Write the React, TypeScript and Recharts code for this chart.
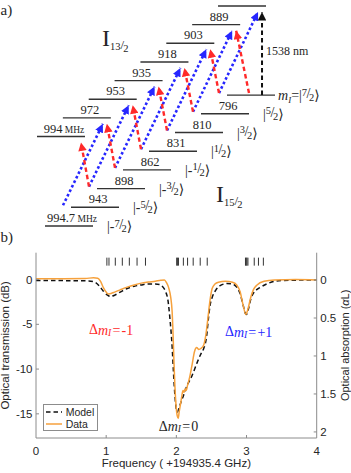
import React from "react";
import {
  ComposedChart,
  Line,
  ReferenceDot,
  Scatter,
  XAxis,
  YAxis,
} from "recharts";

// a) level scheme: hyperfine splittings printed above the levels (MHz)
const upperSplittings = ["994", "972", "953", "935", "918", "903", "889"];
const lowerSplittings = ["994.7", "943", "898", "862", "831", "810", "796"];
// nuclear spin projection of each level, lowest first
const mIValues = ["-7/2", "-5/2", "-3/2", "-1/2", "1/2", "3/2", "5/2", "7/2"];

// b) transmission spectrum (dB) vs frequency offset (GHz)
const modelFreq = [
  0, 0.4, 0.75, 0.84, 0.9, 0.96, 1.02, 1.06, 1.12, 1.2, 1.3, 1.4, 1.5, 1.6,
  1.7, 1.76, 1.81, 1.85, 1.88, 1.91, 1.94, 1.96, 1.98, 2.0, 2.015, 2.04, 2.07,
  2.1, 2.15, 2.22, 2.3, 2.35, 2.39, 2.43, 2.455, 2.48, 2.51, 2.56, 2.63, 2.72,
  2.8, 2.86, 2.91, 2.95, 2.985, 3.0, 3.03, 3.06, 3.1, 3.15, 3.2, 3.3, 3.4, 3.6,
  4.0,
];
const modelDb = [
  -0.1, -0.12, -0.15, -0.3, -0.7, -1.3, -1.75, -1.9, -1.75, -1.4, -1.0, -0.75,
  -0.6, -0.5, -0.5, -0.55, -0.85, -1.4, -2.3, -4.5, -7.5, -10.5, -13.0, -14.5,
  -14.8, -14.3, -13.6, -13.0, -11.9, -10.8, -9.2, -8.3, -7.7, -6.4, -4.5, -2.9,
  -2.0, -1.2, -0.65, -0.45, -0.5, -0.85, -1.6, -2.8, -3.8, -3.9, -3.2, -2.2,
  -1.5, -1.1, -0.85, -0.45, -0.2, -0.08, -0.05,
];
const dataFreq = [
  0, 0.4, 0.7, 0.82, 0.88, 0.92, 0.96, 1.0, 1.03, 1.07, 1.12, 1.2, 1.3, 1.4,
  1.5, 1.6, 1.7, 1.78, 1.83, 1.86, 1.89, 1.92, 1.94, 1.955, 1.965, 1.98, 1.995,
  2.012, 2.027, 2.04, 2.06, 2.08, 2.095, 2.11, 2.125, 2.14, 2.16, 2.19, 2.22,
  2.26, 2.29, 2.32, 2.35, 2.39, 2.42, 2.45, 2.48, 2.51, 2.55, 2.6, 2.7, 2.8,
  2.86, 2.91, 2.95, 2.99, 3.02, 3.06, 3.1, 3.15, 3.25, 3.4, 3.7, 4.0,
];
const dataDb = [
  0.1, 0.1, 0.12, 0.2, 0.15, -0.2, -0.9, -1.4, -1.6, -1.55, -1.4, -1.15, -0.85,
  -0.6, -0.4, -0.28, -0.18, -0.08, -0.05, -0.35, -0.9, -2.0, -3.6, -6.5, -9.0,
  -12.0, -14.0, -15.2, -15.5, -14.8, -13.9, -12.9, -12.4, -12.6, -12.2, -12.4,
  -11.8, -10.9, -9.7, -8.0, -7.6, -7.8, -7.7, -7.3, -6.2, -4.3, -2.3, -1.0,
  -0.5, -0.3, -0.2, -0.3, -0.6, -1.4, -2.8, -3.9, -3.3, -2.0, -1.1, -0.6, -0.2,
  -0.05, 0, -0.05,
];
// hyperfine line positions marked along the top of the plot
const linesMinus = [1.01, 1.04, 1.13, 1.23, 1.33, 1.44, 1.56];
const linesZero = [2.005, 2.015, 2.03, 2.1, 2.16, 2.24, 2.34, 2.44];
const linesPlus = [2.985, 2.995, 3.005, 3.02, 3.11, 3.17, 3.24];

const freqTicks = [0, 1, 2, 3, 4];
const dbTicks = [-15, -10, -5, 0];
const alphaTicks = [0, 0.5, 1, 1.5, 2];
const seriesNames = ["Model", "Data"];

const SERIF = '"Liberation Serif", "DejaVu Serif", serif';
const SANS = '"Liberation Sans", Arial, sans-serif';
const INK = "#262626";
const AXIS = "#8c8c8c";
const RED = "#ff2a2a";
const BLUE = "#2626ff";
const ORANGE = "#f6a13c";
const TICK = 3;

// ---------- level-scheme layout (diagram units = pixels of the scheme) ----------
const W = 351;
const DIAG_H = 240;
const LEVEL_W = 48;
const upX1 = (k: number) => 37 + 25.86 * k;
const upY = (k: number) => 136.5 - 18.64 * k;
const loX1 = (k: number) => 45 + 26 * k;
const loY = (k: number) => 226 - 18.7 * k;

const levelSegments = [
  ...mIValues.map((_, k) => [
    { x: upX1(k), y: upY(k) },
    { x: upX1(k) + LEVEL_W, y: upY(k) },
  ]),
  ...mIValues.map((_, k) => [
    { x: loX1(k), y: loY(k) },
    { x: loX1(k) + LEVEL_W, y: loY(k) },
  ]),
];

// arrows leave level k from just left of level k+1, as drawn in the figure
const arrowStart = (k: number) =>
  k < 7
    ? { x: loX1(k + 1) - 8, y: loY(k + 1) - 2 }
    : { x: loX1(7) + 22, y: loY(7) - 2 };

type Arrow = { color: string; head: string; dash: string; width: number; pts: { x: number; y: number }[] };
const arrows: Arrow[] = [];
mIValues.forEach((_, k) => {
  const s = arrowStart(k);
  if (k + 1 <= 7)
    arrows.push({
      color: BLUE, head: "head-blue", dash: "2.6 2.4", width: 2.6,
      pts: [s, { x: upX1(k + 1) + LEVEL_W - 8, y: upY(k + 1) + 6 }],
    });
  if (k - 1 >= 0)
    arrows.push({
      color: RED, head: "head-red", dash: "4.5 3", width: 2.4,
      pts: [s, { x: upX1(k - 1) + LEVEL_W - 4, y: upY(k - 1) + 6 }],
    });
});
const pumpX = upX1(7) + LEVEL_W - 4;
arrows.push({
  color: "#111", head: "head-black", dash: "4.5 3", width: 2,
  pts: [{ x: pumpX, y: loY(7) }, { x: pumpX, y: upY(7) + 6 }],
});

type DText = { x: number; y: number; kind: string; text: string; unit?: boolean };
const diagramTexts: DText[] = [
  ...upperSplittings.map((s, k) => ({
    x: upX1(k) + LEVEL_W / 2 + 3, y: upY(k) - 4, kind: "num", text: s, unit: k === 0,
  })),
  ...lowerSplittings.map((s, k) => ({
    x: loX1(k) + LEVEL_W / 2 + 3, y: loY(k) - 4, kind: "num", text: s, unit: k === 0,
  })),
  ...mIValues.map((m, k) =>
    k < 7
      ? { x: loX1(k) + LEVEL_W + 14, y: loY(k) + 5, kind: "ket", text: m }
      : { x: loX1(k) + LEVEL_W + 3, y: loY(k) + 5, kind: "mket", text: m },
  ),
  { x: 102, y: 46, kind: "manifold", text: "13" },
  { x: 216, y: 202, kind: "manifold", text: "15" },
  { x: pumpX + 4, y: (loY(7) + upY(7) + 6) / 2 + 1.5, kind: "plain", text: "1538 nm" },
];

function ketSpans(m: string) {
  const neg = m.startsWith("-");
  const [num, den] = m.replace("-", "").split("/");
  return (
    <>
      {neg ? "|-" : "|"}
      <tspan fontSize={10.5} dy={-4.5}>{num}</tspan>
      <tspan fontSize={14} dy={2.5} dx={-0.5}>/</tspan>
      <tspan fontSize={10.5} dy={3} dx={-1.5}>{den}</tspan>
      <tspan fontSize={14} dy={-1}>⟩</tspan>
    </>
  );
}

function DiagramText(props: any) {
  const { cx, cy, payload } = props;
  const common = { fontFamily: SERIF, fill: INK };
  switch (payload.kind) {
    case "num":
      return (
        <text x={cx} y={cy} textAnchor="middle" fontSize={12.5} {...common}>
          {payload.text}
          {payload.unit && <tspan fontSize={9.5}> MHz</tspan>}
        </text>
      );
    case "ket":
      return (
        <text x={cx} y={cy} fontSize={14} {...common}>
          {ketSpans(payload.text)}
        </text>
      );
    case "mket":
      return (
        <text x={cx} y={cy} fontSize={14} {...common}>
          <tspan fontStyle="italic">m</tspan>
          <tspan fontStyle="italic" fontSize={9} dy={2.5}>I</tspan>
          <tspan dy={-2.5}>=</tspan>
          {ketSpans(payload.text)}
        </text>
      );
    case "manifold":
      return (
        <text x={cx} y={cy} fontSize={24} {...common}>
          I
          <tspan fontSize={10.5} dy={4}>{payload.text}</tspan>
          <tspan fontSize={13} dy={-1}>/</tspan>
          <tspan fontSize={10.5} dy={3} dx={-1}>2</tspan>
        </text>
      );
    default:
      return (
        <text x={cx} y={cy} fontSize={12} {...common}>
          {payload.text}
        </text>
      );
  }
}

function ArrowHeads() {
  const heads: [string, string][] = [
    ["head-blue", BLUE],
    ["head-red", RED],
    ["head-black", "#111"],
  ];
  return (
    <svg width={0} height={0} style={{ position: "absolute" }}>
      <defs>
        {heads.map(([id, fill]) => (
          <marker
            key={id}
            id={id}
            viewBox="0 0 10 10"
            refX={10}
            refY={5}
            markerWidth={9}
            markerHeight={8.5}
            markerUnits="userSpaceOnUse"
            orient="auto"
          >
            <path d="M0,0 L10,5 L0,10 z" fill={fill} />
          </marker>
        ))}
      </defs>
    </svg>
  );
}

function Diagram() {
  return (
    <ComposedChart width={W} height={DIAG_H} margin={{ top: 0, right: 0, bottom: 0, left: 0 }}>
      <XAxis type="number" dataKey="x" domain={[0, W]} hide allowDataOverflow />
      <YAxis type="number" dataKey="y" domain={[0, DIAG_H]} reversed hide allowDataOverflow />
      {levelSegments.map((seg, i) => (
        <Line
          key={"lv" + i}
          data={seg}
          dataKey="y"
          type="linear"
          stroke="#333"
          strokeWidth={1.4}
          dot={false}
          activeDot={false}
          isAnimationActive={false}
        />
      ))}
      {arrows.map((a, i) => (
        <Line
          key={"ar" + i}
          data={a.pts}
          dataKey="y"
          type="linear"
          stroke={a.color}
          strokeWidth={a.width}
          strokeDasharray={a.dash}
          markerEnd={`url(#${a.head})`}
          dot={false}
          activeDot={false}
          isAnimationActive={false}
        />
      ))}
      <Scatter data={diagramTexts} shape={(p: any) => <DiagramText {...p} />} isAnimationActive={false} />
    </ComposedChart>
  );
}

// ---------- spectrum ----------
const BottomTick = (p: any) => {
  const { x, y, payload } = p;
  const v = payload.value;
  return (
    <g>
      {v > 0 && v < 4 && <line x1={x} x2={x} y1={y} y2={y - TICK} stroke={AXIS} />}
      <text x={x} y={y + 13} textAnchor="middle" dominantBaseline="central" fontFamily={SANS} fontSize={11.5} fill={INK}>
        {v}
      </text>
    </g>
  );
};
const TopTick = (p: any) => {
  const { x, y } = p;
  return <line x1={x} x2={x} y1={y} y2={y + TICK} stroke={AXIS} />;
};
const LeftTick = (p: any) => {
  const { x, y, payload } = p;
  return (
    <g>
      <line x1={x} x2={x + TICK} y1={y} y2={y} stroke={AXIS} />
      <text x={x - 3.5} y={y} textAnchor="end" dominantBaseline="central" fontFamily={SANS} fontSize={11.5} fill={INK}>
        {payload.value}
      </text>
    </g>
  );
};
const RightTick = (p: any) => {
  const { x, y, payload } = p;
  return (
    <g>
      <line x1={x} x2={x - TICK} y1={y} y2={y} stroke={AXIS} />
      <text x={x + 3.5} y={y} textAnchor="start" dominantBaseline="central" fontFamily={SANS} fontSize={11.5} fill={INK}>
        {payload.value}
      </text>
    </g>
  );
};

const HfTick = (p: any) => (
  <line x1={p.cx} x2={p.cx} y1={p.cy - 4} y2={p.cy + 4} stroke="#333" strokeWidth={1} />
);

function DeltaText({ cx, cy, value, color }: { cx: number; cy: number; value: string; color: string }) {
  return (
    <text x={cx} y={cy} textAnchor="middle" dominantBaseline="central" fontFamily={SERIF} fontSize={14} fill={color}>
      Δ<tspan fontStyle="italic">m</tspan>
      <tspan fontStyle="italic" fontSize={9.5} dy={3}>I</tspan>
      <tspan dy={-3}>{"\u200a=\u200a" + value}</tspan>
    </text>
  );
}

const seriesStyle: Record<string, { stroke: string; dash?: string }> = {
  Model: { stroke: "#111", dash: "4.5 3" },
  Data: { stroke: ORANGE },
};

function LegendBox() {
  return (
    <div
      style={{
        position: "absolute",
        left: 42.7,
        top: 174,
        border: `1px solid ${AXIS}`,
        background: "#fff",
        width: 55,
        height: 27,
        boxSizing: "border-box",
        paddingTop: 0.5,
        fontFamily: SANS,
        fontSize: 10.5,
        color: INK,
        lineHeight: "12px",
      }}
    >
      {seriesNames.map((name) => (
        <div key={name} style={{ display: "flex", alignItems: "center", height: 12.5 }}>
          <svg width={20} height={12}>
            <line x1={2} x2={18} y1={6} y2={6} stroke={seriesStyle[name].stroke} strokeWidth={1.5} strokeDasharray={seriesStyle[name].dash} />
          </svg>
          <span style={{ marginLeft: 2 }}>{name}</span>
        </div>
      ))}
    </div>
  );
}

function Spectrum() {
  const modelData = modelFreq.map((f, i) => ({ f, db: modelDb[i] }));
  const dataData = dataFreq.map((f, i) => ({ f, db: dataDb[i] }));
  const hfLines = [...linesMinus, ...linesZero, ...linesPlus].map((f) => ({ f, db: 2 }));
  const labelStyle = { fontFamily: SANS, fontSize: 11.5, fill: INK };
  return (
    <ComposedChart width={W} height={243} margin={{ top: 22.7, right: 0, bottom: 0, left: 0 }}>
      <XAxis
        xAxisId="bottom"
        type="number"
        dataKey="f"
        domain={[0, 4]}
        ticks={freqTicks}
        interval={0}
        height={35}
        allowDataOverflow
        axisLine={{ stroke: AXIS }}
        tickLine={false}
        tickSize={0}
        tickMargin={0}
        tick={BottomTick}
        label={{
          content: ({ viewBox }: any) => (
            <text x={viewBox.x + viewBox.width / 2} y={viewBox.y + 25} textAnchor="middle" dominantBaseline="central" {...labelStyle}>
              Frequency ( +194935.4 GHz)
            </text>
          ),
        }}
      />
      <XAxis
        xAxisId="top"
        orientation="top"
        type="number"
        dataKey="f"
        domain={[0, 4]}
        ticks={[1, 2, 3]}
        interval={0}
        height={0}
        allowDataOverflow
        axisLine={{ stroke: AXIS }}
        tickLine={false}
        tickSize={0}
        tickMargin={0}
        tick={TopTick}
      />
      <YAxis
        yAxisId="db"
        type="number"
        dataKey="db"
        domain={[-17.7, 3]}
        ticks={dbTicks}
        interval={0}
        width={36}
        allowDataOverflow
        axisLine={{ stroke: AXIS }}
        tickLine={false}
        tickSize={0}
        tickMargin={0}
        tick={LeftTick}
        label={{
          content: ({ viewBox }: any) => {
            const cx = viewBox.x + 5;
            const cy = viewBox.y + viewBox.height / 2;
            return (
              <text x={cx} y={cy} transform={`rotate(-90 ${cx} ${cy})`} textAnchor="middle" dominantBaseline="central" {...labelStyle}>
                Optical transmission (dB)
              </text>
            );
          },
        }}
      />
      <YAxis
        yAxisId="alpha"
        orientation="right"
        type="number"
        domain={[-0.36, 2.08]}
        reversed
        ticks={alphaTicks}
        interval={0}
        width={34.3}
        allowDataOverflow
        axisLine={{ stroke: AXIS }}
        tickLine={false}
        tickSize={0}
        tickMargin={0}
        tick={RightTick}
        label={{
          content: ({ viewBox }: any) => {
            const cx = viewBox.x + 28.5;
            const cy = viewBox.y + viewBox.height / 2;
            return (
              <text x={cx} y={cy} transform={`rotate(-90 ${cx} ${cy})`} textAnchor="middle" dominantBaseline="central" {...labelStyle} fontSize={11}>
                Optical absorption (<tspan fontStyle="italic">α</tspan>L)
              </text>
            );
          },
        }}
      />
      <Scatter
        data={hfLines}
        xAxisId="top"
        yAxisId="db"
        shape={HfTick}
        legendType="none"
        isAnimationActive={false}
      />
      <Line
        data={modelData}
        xAxisId="bottom"
        yAxisId="db"
        dataKey="db"
        name="Model"
        type="monotone"
        stroke={seriesStyle.Model.stroke}
        strokeWidth={1.5}
        strokeDasharray={seriesStyle.Model.dash}
        dot={false}
        activeDot={false}
        isAnimationActive={false}
      />
      <Line
        data={dataData}
        xAxisId="bottom"
        yAxisId="db"
        dataKey="db"
        name="Data"
        type="monotone"
        stroke={seriesStyle.Data.stroke}
        strokeWidth={1.5}
        dot={false}
        activeDot={false}
        isAnimationActive={false}
      />
      <ReferenceDot xAxisId="bottom" yAxisId="db" x={1.07} y={-5.6} shape={(p: any) => <DeltaText cx={p.cx} cy={p.cy} value="-1" color={RED} />} />
      <ReferenceDot xAxisId="bottom" yAxisId="db" x={3.03} y={-5.85} shape={(p: any) => <DeltaText cx={p.cx} cy={p.cy} value="+1" color={BLUE} />} />
      <ReferenceDot xAxisId="bottom" yAxisId="db" x={2.03} y={-16.4} shape={(p: any) => <DeltaText cx={p.cx} cy={p.cy} value="0" color={INK} />} />
    </ComposedChart>
  );
}

export default function App() {
  return (
    <div style={{ position: "relative", width: W, height: 473, background: "#fff", overflow: "hidden" }}>
      <style>{"body{margin:0}"}</style>
      <ArrowHeads />
      <div style={{ position: "absolute", left: 0, top: 0 }}>
        <Diagram />
      </div>
      <div style={{ position: "absolute", left: 0, top: 230, width: W, height: 243 }}>
        <Spectrum />
        <LegendBox />
      </div>
      <svg width={W} height={473} style={{ position: "absolute", left: 0, top: 0, pointerEvents: "none" }}>
        <text x={0.5} y={14.5} fontFamily={SERIF} fontSize={15} fill={INK}>a)</text>
        <text x={0.5} y={241.5} fontFamily={SERIF} fontSize={15} fill={INK}>b)</text>
      </svg>
    </div>
  );
}
